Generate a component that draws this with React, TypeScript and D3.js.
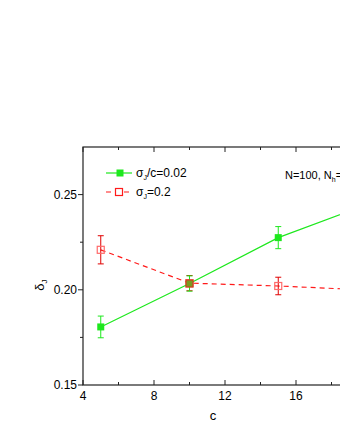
import React, { useEffect, useRef } from 'react';
import * as d3 from 'd3';

// values
const cValues = [5, 10, 15, 20];
const greenVals = [0.1805, 0.2033, 0.2274, 0.2447];
const greenErr = [0.0057, 0.004, 0.0058, 0.006];
const redVals = [0.2210, 0.2035, 0.2020, 0.1999];
const redErr = [0.0074, 0.004, 0.0046, 0.004];
const xMajor = [4, 8, 12, 16, 20];
const xMinor = [6, 10, 14, 18, 22];
const yMajor = [0.15, 0.2, 0.25];
const yMinor = [0.175, 0.225];

const GREEN = '#1ee81e';
const RED = '#ff1a1a';
const FONT = 'Liberation Sans, Arial, sans-serif';
const W = 340;

const App = () => {
  const ref = useRef<SVGSVGElement>(null);

  useEffect(() => {
    const svg = d3.select(ref.current);
    svg.selectAll('*').remove();

    const left = 83, top = 147, bottom = 385;
    const x = d3.scaleLinear().domain([4, 22]).range([left, left + 18 * 17.75]);
    const y = d3.scaleLinear().domain([0.15, 0.275]).range([bottom, top]);
    const right = x(22);

    const g = svg.append('g');

    // frame
    g.append('rect')
      .attr('x', left).attr('y', top)
      .attr('width', right - left).attr('height', bottom - top)
      .attr('fill', 'none').attr('stroke', '#222').attr('stroke-width', 1.2);

    // x ticks (inward, bottom and top)
    xMajor.forEach((v) => {
      g.append('line').attr('x1', x(v)).attr('x2', x(v)).attr('y1', bottom).attr('y2', bottom - 5).attr('stroke', '#222');
      g.append('line').attr('x1', x(v)).attr('x2', x(v)).attr('y1', top).attr('y2', top + 5).attr('stroke', '#222');
      // labels past the window edge are not visible in the chart
      if (x(v) + 8 < W) {
        g.append('text').attr('x', x(v)).attr('y', bottom + 15)
          .attr('text-anchor', 'middle').style('font-family', FONT).style('font-size', '12px').text(v);
      }
    });
    xMinor.forEach((v) => {
      g.append('line').attr('x1', x(v)).attr('x2', x(v)).attr('y1', bottom).attr('y2', bottom - 3).attr('stroke', '#222');
      g.append('line').attr('x1', x(v)).attr('x2', x(v)).attr('y1', top).attr('y2', top + 3).attr('stroke', '#222');
    });

    // y ticks (outward)
    yMajor.forEach((v) => {
      g.append('line').attr('x1', left).attr('x2', left - 5).attr('y1', y(v)).attr('y2', y(v)).attr('stroke', '#222');
      g.append('text').attr('x', left - 6).attr('y', y(v) + 4)
        .attr('text-anchor', 'end').style('font-family', FONT).style('font-size', '12px').text(v.toFixed(2));
    });
    yMinor.forEach((v) => {
      g.append('line').attr('x1', left).attr('x2', left - 3).attr('y1', y(v)).attr('y2', y(v)).attr('stroke', '#222');
    });

    // axis titles
    g.append('text').attr('x', 213).attr('y', 420)
      .attr('text-anchor', 'middle').style('font-family', FONT).style('font-size', '13px').text('c');
    const yl = g.append('text')
      .attr('transform', 'translate(44,285) rotate(-90)')
      .attr('text-anchor', 'middle').style('font-family', FONT).style('font-size', '13px');
    yl.append('tspan').text('δ');
    yl.append('tspan').attr('dy', 3).style('font-size', '8px').text('J');

    const clip = svg.append('defs').append('clipPath').attr('id', 'plot');
    clip.append('rect').attr('x', left).attr('y', top).attr('width', right - left).attr('height', bottom - top);
    const plot = g.append('g').attr('clip-path', 'url(#plot)');

    const line = d3.line<number>().x((d, i) => x(cValues[i])).y((d) => y(d));

    // red series
    plot.append('path').datum(redVals).attr('d', line)
      .attr('fill', 'none').attr('stroke', RED).attr('stroke-width', 1.2).attr('stroke-dasharray', '5,4');
    redVals.forEach((v, i) => {
      const cx = x(cValues[i]);
      plot.append('line').attr('x1', cx).attr('x2', cx).attr('y1', y(v - redErr[i])).attr('y2', y(v + redErr[i])).attr('stroke', '#e00000');
      [v - redErr[i], v + redErr[i]].forEach((e) => {
        plot.append('line').attr('x1', cx - 3).attr('x2', cx + 3).attr('y1', y(e)).attr('y2', y(e)).attr('stroke', '#e00000');
      });
      plot.append('rect').attr('x', cx - 3.5).attr('y', y(v) - 3.5).attr('width', 7).attr('height', 7)
        .attr('fill', 'none').attr('stroke', '#ff6a6a').attr('stroke-width', 1.2);
    });

    // green series
    plot.append('path').datum(greenVals).attr('d', line)
      .attr('fill', 'none').attr('stroke', GREEN).attr('stroke-width', 1.2);
    greenVals.forEach((v, i) => {
      const cx = x(cValues[i]);
      plot.append('line').attr('x1', cx).attr('x2', cx).attr('y1', y(v - greenErr[i])).attr('y2', y(v + greenErr[i])).attr('stroke', GREEN);
      [v - greenErr[i], v + greenErr[i]].forEach((e) => {
        plot.append('line').attr('x1', cx - 3).attr('x2', cx + 3).attr('y1', y(e)).attr('y2', y(e)).attr('stroke', GREEN);
      });
      if (i !== 1) {
        plot.append('rect').attr('x', cx - 3.5).attr('y', y(v) - 3.5).attr('width', 7).attr('height', 7).attr('fill', GREEN);
      }
    });
    // middle point: red outline over green fill
    {
      const cx = x(cValues[1]);
      plot.append('rect').attr('x', cx - 3.5).attr('y', y(greenVals[1]) - 3.5).attr('width', 7).attr('height', 7)
        .attr('fill', '#7a9a20').attr('stroke', '#d04020').attr('stroke-width', 1.2);
    }

    // legend
    g.append('line').attr('x1', 106).attr('x2', 132).attr('y1', 173).attr('y2', 173).attr('stroke', GREEN).attr('stroke-width', 1.2);
    g.append('rect').attr('x', 116.5).attr('y', 169.5).attr('width', 7).attr('height', 7).attr('fill', GREEN);
    g.append('line').attr('x1', 106).attr('x2', 132).attr('y1', 192).attr('y2', 192).attr('stroke', RED)
      .attr('stroke-width', 1.2).attr('stroke-dasharray', '5,4');
    g.append('rect').attr('x', 115.5).attr('y', 188.5).attr('width', 7).attr('height', 7)
      .attr('fill', 'white').attr('stroke', RED).attr('stroke-width', 1.2);

    const t1 = g.append('text').attr('x', 136).attr('y', 177).style('font-family', FONT).style('font-size', '12px');
    t1.append('tspan').text('σ');
    t1.append('tspan').attr('dy', 3).style('font-size', '7px').text('J');
    t1.append('tspan').attr('dy', -3).text('/c=0.02');
    const t2 = g.append('text').attr('x', 136).attr('y', 196).style('font-family', FONT).style('font-size', '12px');
    t2.append('tspan').text('σ');
    t2.append('tspan').attr('dy', 3).style('font-size', '7px').text('J');
    t2.append('tspan').attr('dy', -3).text('=0.2');

    // this label runs past the right edge in the original, as here
    const t3 = g.append('text').attr('x', 285).attr('y', 179).style('font-family', FONT).style('font-size', '11px');
    t3.append('tspan').text('N=100, N');
    t3.append('tspan').attr('dy', 3).style('font-size', '7px').text('h');
    t3.append('tspan').attr('dy', -3).text('=');
  }, []);

  return (
    <svg ref={ref} width={W} height={440}
      style={{ position: 'absolute', left: 0, top: 0, background: 'white' }} />
  );
};

export default App;
